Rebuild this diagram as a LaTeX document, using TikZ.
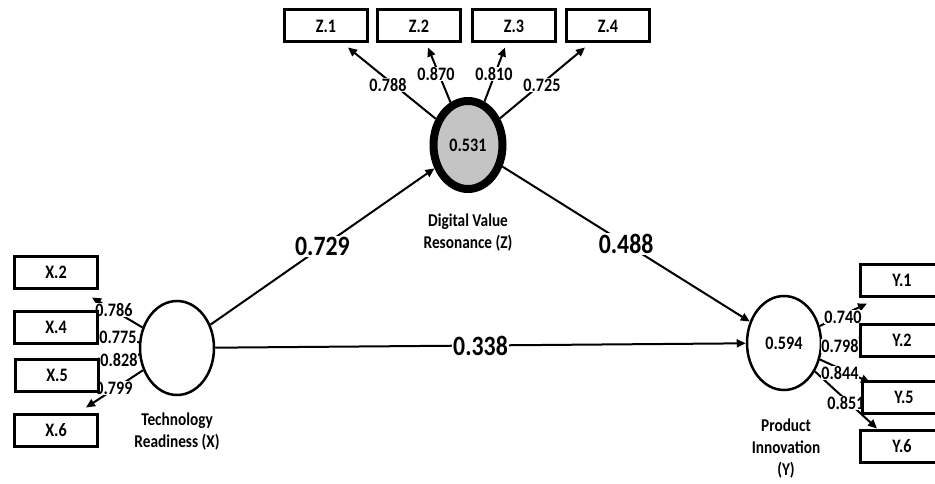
\documentclass[tikz,border=0pt]{standalone}
\usepackage{fontspec}
\setmainfont{Carlito}[FakeStretch=0.85]
\usetikzlibrary{shapes.geometric,arrows.meta,calc}
\definecolor{zgray}{HTML}{C4C4C4}
\begin{document}
\begin{tikzpicture}[x=1pt,y=-1pt,
  lv/.style={ellipse,draw,line width=2.5pt,fill=white,minimum width=74pt,minimum height=94pt,inner sep=0pt,font=\fontsize{19}{21}\selectfont\bfseries},
  ind/.style={draw,line width=3pt,fill=white,minimum width=83pt,minimum height=32pt,inner sep=0pt,font=\fontsize{19}{21}\selectfont\bfseries},
  conn/.style={line width=2pt,-{Triangle[length=9pt,width=8pt]}},
  ld/.style={fill=white,inner sep=0.5pt,font=\fontsize{19}{21}\selectfont\bfseries},
  big/.style={fill=white,inner sep=1.5pt,font=\fontsize{28}{30}\selectfont\bfseries},
  captxt/.style={align=center,font=\fontsize{18}{22}\selectfont\bfseries}
]
\useasboundingbox (0,0) rectangle (935,484);
\clip (0,0) rectangle (935,484);

% latent variables
\node[lv] (X) at (177,348) {};
\node[lv,line width=8pt,fill=zgray,minimum width=69pt,minimum height=88pt] (Z) at (468,145) {0.531};
\node[lv] (Y) at (784,343) {0.594};

% captions
\node[captxt] (xc) at (177,432) {Technology\\Readiness (X)};
\node[captxt] (zc) at (468,233) {Digital Value\\Resonance (Z)};
\node[captxt] (yc) at (786,449) {Product\\Innovation\\(Y)};

% coordinates for indicator boxes
\coordinate (pZ1) at (326,26);
\coordinate (pZ2) at (419,26);
\coordinate (pZ3) at (514,26);
\coordinate (pZ4) at (608,26);

% structural paths
\draw[conn] (X) -- (Z) node[big,midway] (b1) {0.729};
\draw[conn] (Z) -- (Y) node[big,midway] (b2) {0.488};
\draw[conn] (X) -- (Y) node[big,midway] (b3) {0.338};

% indicator boxes (placed as nodes, drawn later on top)
\path (pZ1) node[ind,draw=none,fill=none] (Z1) {}
      (pZ2) node[ind,draw=none,fill=none] (Z2) {}
      (pZ3) node[ind,draw=none,fill=none] (Z3) {}
      (pZ4) node[ind,draw=none,fill=none] (Z4) {}
      (56,272) node[ind,draw=none,fill=none] (X2) {}
      (56,327) node[ind,draw=none,fill=none] (X4) {}
      (57,375) node[ind,draw=none,fill=none] (X5) {}
      (56,430) node[ind,draw=none,fill=none] (X6) {}
      (902,280) node[ind,draw=none,fill=none] (Y1) {}
      (902,340) node[ind,draw=none,fill=none] (Y2) {}
      (904,397) node[ind,draw=none,fill=none] (Y5) {}
      (902,446) node[ind,draw=none,fill=none] (Y6) {};

% outer loadings Z
\draw[conn] (Z) -- ($(Z1.south)+(22,4)$);
\draw[conn] (Z) -- ($(Z2.south)+(9,4)$);
\draw[conn] (Z) -- ($(Z3.south)+(-9,4)$);
\draw[conn] (Z) -- ($(Z4.south)+(-23,4)$);
% outer loadings X
\draw[conn] (X) -- ($(X2.south east)+(-7,8)$);
\draw[conn] (X) -- ($(X4.east)+(-9,8)$);
\draw[conn] (X) -- ($(X5.east)+(-9,-12)$);
\draw[conn] (X) -- ($(X6.north east)+(-13,-5)$);
% outer loadings Y
\draw[conn] (Y) -- ($(Y1.south west)+(8,6)$);
\draw[conn] (Y) -- ($(Y2.west)+(9,0)$);
\draw[conn] (Y) -- ($(Y5.north west)+(9,3)$);
\draw[conn] (Y) -- ($(Y6.north west)+(18,0)$);

% loading labels
\node[ld] (l1) at (388,85) {0.788};
\node[ld] (l2) at (436,74) {0.870};
\node[ld] (l3) at (494,74) {0.810};
\node[ld] (l4) at (542,85) {0.725};
\node[ld] (l5) at (114,310) {0.786};
\node[ld] (l6) at (118,337) {0.775};
\node[ld] (l7) at (119,360) {0.828};
\node[ld] (l8) at (114,388) {0.799};
\node[ld] (l9) at (843,317) {0.740};
\node[ld] (l10) at (840,346) {0.798};
\node[ld] (l11) at (840,373) {0.844};
\node[ld] (l12) at (846,403) {0.851};

% indicator boxes
\node[ind] at (Z1) {Z.1};
\node[ind] at (Z2) {Z.2};
\node[ind] at (Z3) {Z.3};
\node[ind] at (Z4) {Z.4};
\node[ind] at (X2) {X.2};
\node[ind] at (X4) {X.4};
\node[ind] at (X5) {X.5};
\node[ind] at (X6) {X.6};
\node[ind] at (Y1) {Y.1};
\node[ind] at (Y2) {Y.2};
\node[ind] at (Y5) {Y.5};
\node[ind] at (Y6) {Y.6};
\end{tikzpicture}
\end{document}
